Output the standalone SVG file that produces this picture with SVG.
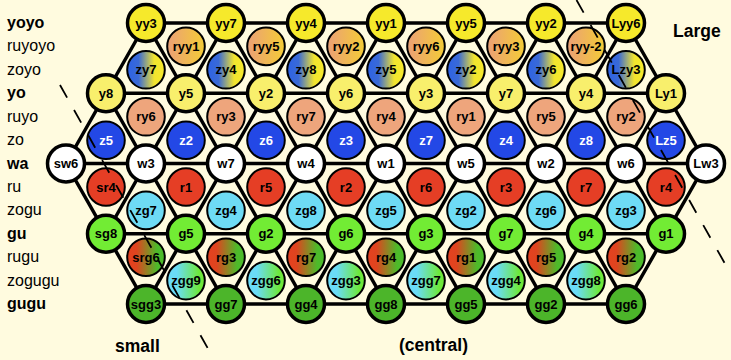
<svg xmlns="http://www.w3.org/2000/svg" width="731" height="360" viewBox="0 0 731 360">
<style>
text{font-family:"Liberation Sans",Arial,sans-serif}
.n text{font-size:13px;font-weight:bold;text-anchor:middle;fill:#000}
.n .wt{fill:#fff}
.big{stroke:#000;stroke-width:3.5}
.sm{stroke:#000;stroke-width:2}
.yy{fill:#F6E92B}.y{fill:#F8EF6C}.ry{fill:#EEA57C}.z{fill:#2348E6}.w{fill:#fff}.r{fill:#E53E25}
.zg{fill:#6EDBF5}.g{fill:#72EC34}.gg{fill:#4CB52A}
.ryy{fill:url(#gRyy)}.zy{fill:url(#gZy)}.rg{fill:url(#gRg)}.zgg{fill:url(#gZgg)}
.edge{stroke:#000;stroke-width:3.5;fill:none;stroke-linecap:round}
.dash{stroke:#000;stroke-width:1.8;fill:none;stroke-dasharray:14.5 14.2}
.lab{font-size:16px;fill:#000}
.lab.b{font-weight:bold}
.big-t{font-size:17.5px;font-weight:bold;fill:#000}
</style>
<defs>
<linearGradient id="gRyy" x1="0" y1="0" x2="1" y2="0"><stop offset="0" stop-color="#EBA077"/><stop offset="1" stop-color="#F4CC35"/></linearGradient>
<linearGradient id="gZy" x1="0" y1="0" x2="1" y2="0"><stop offset="0" stop-color="#2C62E6"/><stop offset="0.3" stop-color="#3A6AD6"/><stop offset="0.72" stop-color="#F2E42E"/><stop offset="1" stop-color="#F6EA2C"/></linearGradient>
<linearGradient id="gRg" x1="0" y1="0" x2="1" y2="0"><stop offset="0" stop-color="#E8401F"/><stop offset="0.25" stop-color="#DE451F"/><stop offset="0.8" stop-color="#4CBB2A"/><stop offset="1" stop-color="#4CBB2A"/></linearGradient>
<linearGradient id="gZgg" x1="0" y1="0" x2="1" y2="0"><stop offset="0" stop-color="#6ADCF8"/><stop offset="0.25" stop-color="#6ADCF8"/><stop offset="0.85" stop-color="#6EE83A"/><stop offset="1" stop-color="#6EE83A"/></linearGradient>
</defs>
<rect width="731" height="360" fill="#FFFBDF"/>
<g id="row-labels">
<text class="lab b" x="7" y="28">yoyo</text>
<text class="lab" x="7" y="51.4">ruyoyo</text>
<text class="lab" x="7" y="74.8">zoyo</text>
<text class="lab b" x="7" y="98.2">yo</text>
<text class="lab" x="7" y="121.8">ruyo</text>
<text class="lab" x="7" y="145.2">zo</text>
<text class="lab b" x="7" y="168.5">wa</text>
<text class="lab" x="7" y="192">ru</text>
<text class="lab" x="7" y="215.4">zogu</text>
<text class="lab b" x="7" y="238.7">gu</text>
<text class="lab" x="7" y="262.2">rugu</text>
<text class="lab" x="7" y="285.6">zogugu</text>
<text class="lab b" x="7" y="309">gugu</text>
</g>
<text class="big-t" x="673" y="37">Large</text>
<text class="big-t" x="115" y="352">small</text>
<text class="big-t" x="399" y="351">(central)</text>
<g id="connectors">
<path class="edge" d="M146,23H626M106,93.25H666M66,163.5H706M106,233.75H666M146,304H626
M146,23L66,163.5M226,23L106,233.75M306,23L146,304M386,23L226,304M466,23L306,304M546,23L386,304M626,23L466,304M666,93.25L546,304M706,163.5L626,304
M66,163.5L146,304M106,93.25L226,304M146,23L306,304M226,23L386,304M306,23L466,304M386,23L546,304M466,23L626,304M546,23L666,233.75M626,23L706,163.5"/>
</g>
<g id="nodes">
<g id="yy3" class="n" transform="translate(146,23)"><circle class="big yy" r="18.5"/><text y="4.5">yy3</text></g>
<g id="yy7" class="n" transform="translate(226,23)"><circle class="big yy" r="18.5"/><text y="4.5">yy7</text></g>
<g id="yy4" class="n" transform="translate(306,23)"><circle class="big yy" r="18.5"/><text y="4.5">yy4</text></g>
<g id="yy1" class="n" transform="translate(386,23)"><circle class="big yy" r="18.5"/><text y="4.5">yy1</text></g>
<g id="yy5" class="n" transform="translate(466,23)"><circle class="big yy" r="18.5"/><text y="4.5">yy5</text></g>
<g id="yy2" class="n" transform="translate(546,23)"><circle class="big yy" r="18.5"/><text y="4.5">yy2</text></g>
<g id="Lyy6" class="n" transform="translate(626,23)"><circle class="big yy" r="18.5"/><text y="4.5">Lyy6</text></g>

<g id="ryy1" class="n" transform="translate(186,46.4)"><circle class="sm ryy" r="18.8"/><text y="4.5">ryy1</text></g>
<g id="ryy5" class="n" transform="translate(266,46.4)"><circle class="sm ryy" r="18.8"/><text y="4.5">ryy5</text></g>
<g id="ryy2" class="n" transform="translate(346,46.4)"><circle class="sm ryy" r="18.8"/><text y="4.5">ryy2</text></g>
<g id="ryy6" class="n" transform="translate(426,46.4)"><circle class="sm ryy" r="18.8"/><text y="4.5">ryy6</text></g>
<g id="ryy3" class="n" transform="translate(506,46.4)"><circle class="sm ryy" r="18.8"/><text y="4.5">ryy3</text></g>
<g id="ryy-2" class="n" transform="translate(586,46.4)"><circle class="sm ryy" r="18.8"/><text y="4.5">ryy-2</text></g>

<g id="zy7" class="n" transform="translate(146,69.8)"><circle class="sm zy" r="18.8"/><text y="4.5">zy7</text></g>
<g id="zy4" class="n" transform="translate(226,69.8)"><circle class="sm zy" r="18.8"/><text y="4.5">zy4</text></g>
<g id="zy8" class="n" transform="translate(306,69.8)"><circle class="sm zy" r="18.8"/><text y="4.5">zy8</text></g>
<g id="zy5" class="n" transform="translate(386,69.8)"><circle class="sm zy" r="18.8"/><text y="4.5">zy5</text></g>
<g id="zy2" class="n" transform="translate(466,69.8)"><circle class="sm zy" r="18.8"/><text y="4.5">zy2</text></g>
<g id="zy6" class="n" transform="translate(546,69.8)"><circle class="sm zy" r="18.8"/><text y="4.5">zy6</text></g>
<g id="Lzy3" class="n" transform="translate(626,69.8)"><circle class="sm zy" r="18.8"/><text y="4.5">Lzy3</text></g>

<g id="y8" class="n" transform="translate(106,93.25)"><circle class="big y" r="18.5"/><text y="4.5">y8</text></g>
<g id="y5" class="n" transform="translate(186,93.25)"><circle class="big y" r="18.5"/><text y="4.5">y5</text></g>
<g id="y2" class="n" transform="translate(266,93.25)"><circle class="big y" r="18.5"/><text y="4.5">y2</text></g>
<g id="y6" class="n" transform="translate(346,93.25)"><circle class="big y" r="18.5"/><text y="4.5">y6</text></g>
<g id="y3" class="n" transform="translate(426,93.25)"><circle class="big y" r="18.5"/><text y="4.5">y3</text></g>
<g id="y7" class="n" transform="translate(506,93.25)"><circle class="big y" r="18.5"/><text y="4.5">y7</text></g>
<g id="y4" class="n" transform="translate(586,93.25)"><circle class="big y" r="18.5"/><text y="4.5">y4</text></g>
<g id="Ly1" class="n" transform="translate(666,93.25)"><circle class="big y" r="18.5"/><text y="4.5">Ly1</text></g>

<g id="ry6" class="n" transform="translate(146,116.8)"><circle class="sm ry" r="18.8"/><text y="4.5">ry6</text></g>
<g id="ry3" class="n" transform="translate(226,116.8)"><circle class="sm ry" r="18.8"/><text y="4.5">ry3</text></g>
<g id="ry7" class="n" transform="translate(306,116.8)"><circle class="sm ry" r="18.8"/><text y="4.5">ry7</text></g>
<g id="ry4" class="n" transform="translate(386,116.8)"><circle class="sm ry" r="18.8"/><text y="4.5">ry4</text></g>
<g id="ry1" class="n" transform="translate(466,116.8)"><circle class="sm ry" r="18.8"/><text y="4.5">ry1</text></g>
<g id="ry5" class="n" transform="translate(546,116.8)"><circle class="sm ry" r="18.8"/><text y="4.5">ry5</text></g>
<g id="ry2" class="n" transform="translate(626,116.8)"><circle class="sm ry" r="18.8"/><text y="4.5">ry2</text></g>

<g id="z5" class="n" transform="translate(106,140.2)"><circle class="sm z" r="18.8"/><text class="wt" y="4.5">z5</text></g>
<g id="z2" class="n" transform="translate(186,140.2)"><circle class="sm z" r="18.8"/><text class="wt" y="4.5">z2</text></g>
<g id="z6" class="n" transform="translate(266,140.2)"><circle class="sm z" r="18.8"/><text class="wt" y="4.5">z6</text></g>
<g id="z3" class="n" transform="translate(346,140.2)"><circle class="sm z" r="18.8"/><text class="wt" y="4.5">z3</text></g>
<g id="z7" class="n" transform="translate(426,140.2)"><circle class="sm z" r="18.8"/><text class="wt" y="4.5">z7</text></g>
<g id="z4" class="n" transform="translate(506,140.2)"><circle class="sm z" r="18.8"/><text class="wt" y="4.5">z4</text></g>
<g id="z8" class="n" transform="translate(586,140.2)"><circle class="sm z" r="18.8"/><text class="wt" y="4.5">z8</text></g>
<g id="Lz5" class="n" transform="translate(666,140.2)"><circle class="sm z" r="18.8"/><text class="wt" y="4.5">Lz5</text></g>

<g id="sw6" class="n" transform="translate(66,163.5)"><circle class="big w" r="18.5"/><text y="4.5">sw6</text></g>
<g id="w3" class="n" transform="translate(146,163.5)"><circle class="big w" r="18.5"/><text y="4.5">w3</text></g>
<g id="w7" class="n" transform="translate(226,163.5)"><circle class="big w" r="18.5"/><text y="4.5">w7</text></g>
<g id="w4" class="n" transform="translate(306,163.5)"><circle class="big w" r="18.5"/><text y="4.5">w4</text></g>
<g id="w1" class="n" transform="translate(386,163.5)"><circle class="big w" r="18.5"/><text y="4.5">w1</text></g>
<g id="w5" class="n" transform="translate(466,163.5)"><circle class="big w" r="18.5"/><text y="4.5">w5</text></g>
<g id="w2" class="n" transform="translate(546,163.5)"><circle class="big w" r="18.5"/><text y="4.5">w2</text></g>
<g id="w6" class="n" transform="translate(626,163.5)"><circle class="big w" r="18.5"/><text y="4.5">w6</text></g>
<g id="Lw3" class="n" transform="translate(706,163.5)"><circle class="big w" r="18.5"/><text y="4.5">Lw3</text></g>

<g id="sr4" class="n" transform="translate(106,187)"><circle class="sm r" r="18.8"/><text y="4.5">sr4</text></g>
<g id="r1" class="n" transform="translate(186,187)"><circle class="sm r" r="18.8"/><text y="4.5">r1</text></g>
<g id="r5" class="n" transform="translate(266,187)"><circle class="sm r" r="18.8"/><text y="4.5">r5</text></g>
<g id="r2" class="n" transform="translate(346,187)"><circle class="sm r" r="18.8"/><text y="4.5">r2</text></g>
<g id="r6" class="n" transform="translate(426,187)"><circle class="sm r" r="18.8"/><text y="4.5">r6</text></g>
<g id="r3" class="n" transform="translate(506,187)"><circle class="sm r" r="18.8"/><text y="4.5">r3</text></g>
<g id="r7" class="n" transform="translate(586,187)"><circle class="sm r" r="18.8"/><text y="4.5">r7</text></g>
<g id="r4" class="n" transform="translate(666,187)"><circle class="sm r" r="18.8"/><text y="4.5">r4</text></g>

<g id="zg7" class="n" transform="translate(146,210.4)"><circle class="sm zg" r="18.8"/><text y="4.5">zg7</text></g>
<g id="zg4" class="n" transform="translate(226,210.4)"><circle class="sm zg" r="18.8"/><text y="4.5">zg4</text></g>
<g id="zg8" class="n" transform="translate(306,210.4)"><circle class="sm zg" r="18.8"/><text y="4.5">zg8</text></g>
<g id="zg5" class="n" transform="translate(386,210.4)"><circle class="sm zg" r="18.8"/><text y="4.5">zg5</text></g>
<g id="zg2" class="n" transform="translate(466,210.4)"><circle class="sm zg" r="18.8"/><text y="4.5">zg2</text></g>
<g id="zg6" class="n" transform="translate(546,210.4)"><circle class="sm zg" r="18.8"/><text y="4.5">zg6</text></g>
<g id="zg3" class="n" transform="translate(626,210.4)"><circle class="sm zg" r="18.8"/><text y="4.5">zg3</text></g>

<g id="sg8" class="n" transform="translate(106,233.75)"><circle class="big g" r="18.5"/><text y="4.5">sg8</text></g>
<g id="g5" class="n" transform="translate(186,233.75)"><circle class="big g" r="18.5"/><text y="4.5">g5</text></g>
<g id="g2" class="n" transform="translate(266,233.75)"><circle class="big g" r="18.5"/><text y="4.5">g2</text></g>
<g id="g6" class="n" transform="translate(346,233.75)"><circle class="big g" r="18.5"/><text y="4.5">g6</text></g>
<g id="g3" class="n" transform="translate(426,233.75)"><circle class="big g" r="18.5"/><text y="4.5">g3</text></g>
<g id="g7" class="n" transform="translate(506,233.75)"><circle class="big g" r="18.5"/><text y="4.5">g7</text></g>
<g id="g4" class="n" transform="translate(586,233.75)"><circle class="big g" r="18.5"/><text y="4.5">g4</text></g>
<g id="g1" class="n" transform="translate(666,233.75)"><circle class="big g" r="18.5"/><text y="4.5">g1</text></g>

<g id="srg6" class="n" transform="translate(146,257.2)"><circle class="sm rg" r="18.8"/><text y="4.5">srg6</text></g>
<g id="rg3" class="n" transform="translate(226,257.2)"><circle class="sm rg" r="18.8"/><text y="4.5">rg3</text></g>
<g id="rg7" class="n" transform="translate(306,257.2)"><circle class="sm rg" r="18.8"/><text y="4.5">rg7</text></g>
<g id="rg4" class="n" transform="translate(386,257.2)"><circle class="sm rg" r="18.8"/><text y="4.5">rg4</text></g>
<g id="rg1" class="n" transform="translate(466,257.2)"><circle class="sm rg" r="18.8"/><text y="4.5">rg1</text></g>
<g id="rg5" class="n" transform="translate(546,257.2)"><circle class="sm rg" r="18.8"/><text y="4.5">rg5</text></g>
<g id="rg2" class="n" transform="translate(626,257.2)"><circle class="sm rg" r="18.8"/><text y="4.5">rg2</text></g>

<g id="zgg9" class="n" transform="translate(186,280.6)"><circle class="sm zgg" r="18.8"/><text y="4.5">zgg9</text></g>
<g id="zgg6" class="n" transform="translate(266,280.6)"><circle class="sm zgg" r="18.8"/><text y="4.5">zgg6</text></g>
<g id="zgg3" class="n" transform="translate(346,280.6)"><circle class="sm zgg" r="18.8"/><text y="4.5">zgg3</text></g>
<g id="zgg7" class="n" transform="translate(426,280.6)"><circle class="sm zgg" r="18.8"/><text y="4.5">zgg7</text></g>
<g id="zgg4" class="n" transform="translate(506,280.6)"><circle class="sm zgg" r="18.8"/><text y="4.5">zgg4</text></g>
<g id="zgg8" class="n" transform="translate(586,280.6)"><circle class="sm zgg" r="18.8"/><text y="4.5">zgg8</text></g>

<g id="sgg3" class="n" transform="translate(146,304)"><circle class="big gg" r="18.5"/><text y="4.5">sgg3</text></g>
<g id="gg7" class="n" transform="translate(226,304)"><circle class="big gg" r="18.5"/><text y="4.5">gg7</text></g>
<g id="gg4" class="n" transform="translate(306,304)"><circle class="big gg" r="18.5"/><text y="4.5">gg4</text></g>
<g id="gg8" class="n" transform="translate(386,304)"><circle class="big gg" r="18.5"/><text y="4.5">gg8</text></g>
<g id="gg5" class="n" transform="translate(466,304)"><circle class="big gg" r="18.5"/><text y="4.5">gg5</text></g>
<g id="gg2" class="n" transform="translate(546,304)"><circle class="big gg" r="18.5"/><text y="4.5">gg2</text></g>
<g id="gg6" class="n" transform="translate(626,304)"><circle class="big gg" r="18.5"/><text y="4.5">gg6</text></g>
</g>
<g id="guides">
<path class="dash" d="M60,85L207.6,348"/>
<path class="dash" d="M576.5,0L724.6,263"/>
</g>
</svg>
